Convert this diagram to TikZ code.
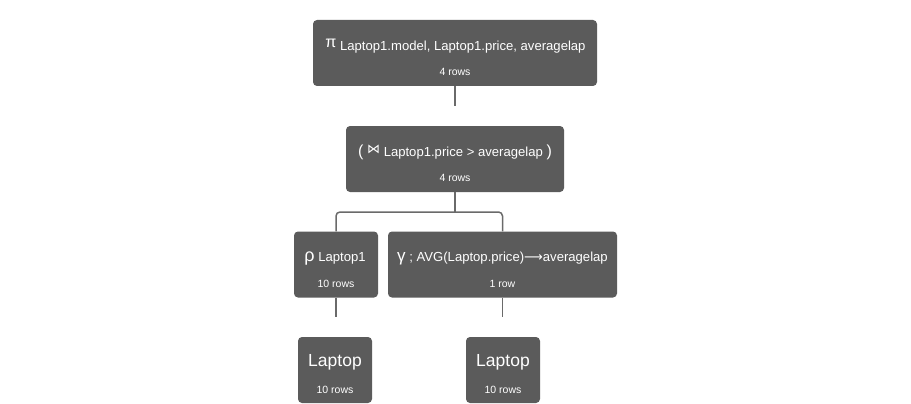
\documentclass[tikz,border=0pt]{standalone}
\usepackage{fontspec}
\setmainfont{Liberation Sans}
\newfontfamily\symfont{DejaVu Sans}
\definecolor{boxgray}{HTML}{5B5B5B}
\definecolor{linegray}{HTML}{6A6A6A}
\begin{document}
\begin{tikzpicture}[x=1pt,y=-1pt,
  box/.style={fill=boxgray, rounded corners=4pt, inner sep=0pt, minimum height=66pt},
  maintext/.style={text=white, font=\fontsize{13.1}{15}\selectfont, anchor=base, inner sep=0pt},
  bigtext/.style={text=white, font=\fontsize{17.5}{20}\selectfont, anchor=base, inner sep=0pt},
  subtext/.style={text=white, font=\fontsize{10.5}{12}\selectfont, anchor=base, inner sep=0pt},
  conn/.style={draw=linegray, line width=1.5pt}]
\useasboundingbox (0,0) rectangle (911,404);

% boxes
\node[box, minimum width=284pt] (pi) at (455,53) {};
\node[box, minimum width=218pt] (join) at (455,159) {};
\node[box, minimum width=84pt] (rho) at (336,264.5) {};
\node[box, minimum width=229pt] (gam) at (502.5,264.5) {};
\node[box, minimum width=74pt] (lapa) at (335,370) {};
\node[box, minimum width=74pt] (lapb) at (503,370) {};

% texts
\node[maintext] (pit) at (455.5,50.5) {\raisebox{3pt}{\fontsize{16}{16}\selectfont π} Laptop1.model, Laptop1.price, averagelap};
\node[subtext] (pis) at (455,75.5) {4 rows};

\node[maintext] (joint) at (455,156.5) {{\fontsize{16}{16}\selectfont (} \raisebox{3pt}{\symfont\fontsize{13}{13}\selectfont ⋈} Laptop1.price > averagelap {\fontsize{16}{16}\selectfont )}};
\node[subtext] (joins) at (455,181.5) {4 rows};

\node[maintext] (rhot) at (335,261) {{\fontsize{18}{18}\selectfont ρ} Laptop1};
\node[subtext] (rhos) at (336,287) {10 rows};

\node[maintext] (gamt) at (502.5,261) {{\fontsize{17}{17}\selectfont γ} ; AVG(Laptop.price){\symfont ⟶}averagelap};
\node[subtext] (gams) at (502.5,287) {1 row};

\node[bigtext] (lapat) at (335,366) {Laptop};
\node[subtext] (lapas) at (335,393.5) {10 rows};
\node[bigtext] (lapbt) at (503,366) {Laptop};
\node[subtext] (lapbs) at (503,393.5) {10 rows};

% connectors
\coordinate (c1) at (455,106);
\coordinate (jn) at (455,212);
\coordinate (c3) at (336,317);
\coordinate (c4) at (502.5,317);
\draw[conn] (pi.south) -- (c1);
\draw[conn] (join.south) -- (jn);
\draw[conn, rounded corners=4pt] (rho.north) |- (jn) -| (gam.north);
\draw[conn] (rho.south) -- (c3);
\draw[conn] (gam.south) -- (c4);
\end{tikzpicture}
\end{document}
